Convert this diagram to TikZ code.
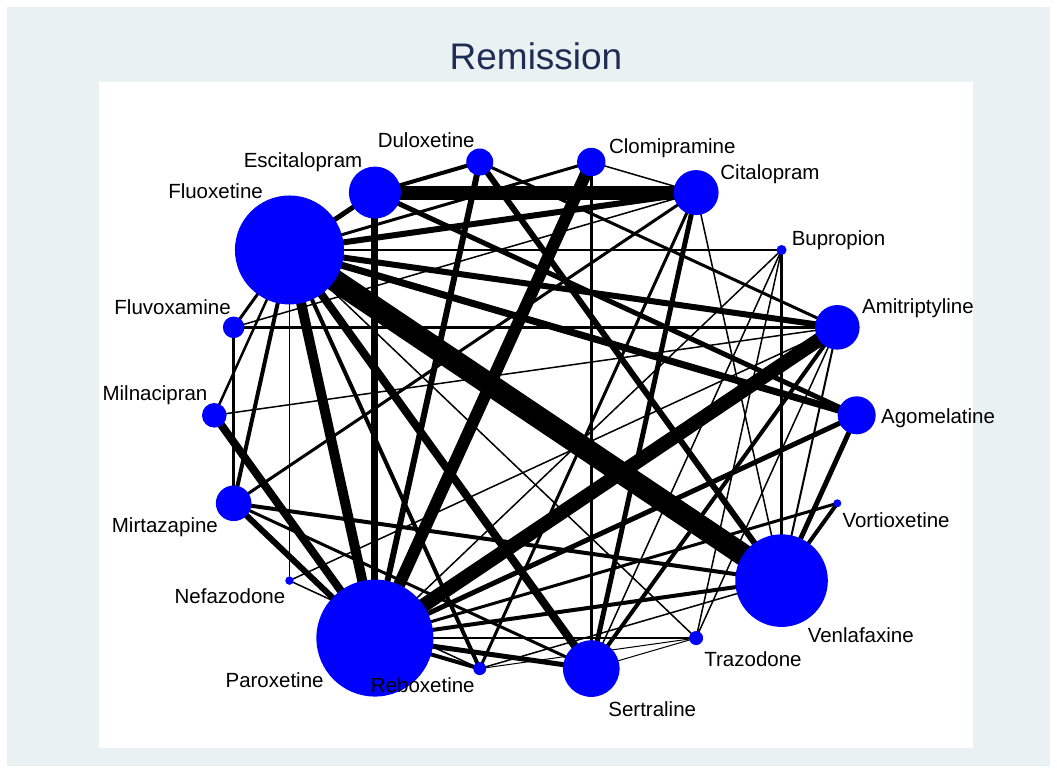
\documentclass[tikz,border=0pt]{standalone}
\usepackage{fontspec}
\setmainfont{Liberation Sans}
\usetikzlibrary{positioning}

\definecolor{stbg}{RGB}{234,241,243}
\definecolor{stnavy}{RGB}{30,45,85}

\pgfdeclarelayer{back}
\pgfdeclarelayer{links}
\pgfsetlayers{back,links,main}

\begin{document}
\begin{tikzpicture}[x=0.5pt, y=-0.5pt,
      drug/.style={circle, fill=blue, inner sep=0pt},
      lbl/.style={inner sep=0pt, font=\fontsize{10.25}{12}\selectfont},
      lnk/.style={draw=black}]

  \useasboundingbox (0,0) rectangle (1057,773);

  % drugs on the ellipse, alphabetical, counter-clockwise
  \foreach \n/\a/\r in {ago/0/19, ami/20/22.3, bup/40/5, cit/60/22.5,
      clo/80/14.2, dul/100/13.5, esc/120/26, flx/140/54.5, flv/160/10.8,
      mil/180/12.3, mir/200/17.8, nef/220/4.2, par/240/58.5, reb/260/6.5,
      ser/280/28.3, tra/300/7, ven/320/46.3, vor/340/4}
    \node[drug, minimum size=\r pt] (\n) at ({535.5+321.2*cos(\a)},{415.3-257.2*sin(\a)}) {};

  \foreach \n/\t/\anc/\dx/\dy in {ago/Agomelatine/west/24/8,
      ami/Amitriptyline/west/24.4/-14, bup/Bupropion/west/9.8/-4,
      cit/Citalopram/west/23.9/-13, clo/Clomipramine/west/17.4/-8.7,
      dul/Duloxetine/east/-4.7/-15, esc/Escitalopram/east/-12.2/-24.9,
      flx/Fluoxetine/east/-26.2/-51.3, flv/Fluvoxamine/east/-2.6/-12.7,
      mil/Milnacipran/east/-6.5/-14.5, mir/Mirtazapine/east/-15.4/29.4,
      nef/Nefazodone/east/-3.8/22.7, par/Paroxetine/east/-50.9/49.3,
      reb/Reboxetine/east/-4.7/24.1, ser/Sertraline/west/16.7/48,
      tra/Trazodone/west/7.9/28.7, ven/Venlafaxine/west/25.8/62,
      vor/Vortioxetine/west/4.8/24.5}
    \node[lbl, anchor=base \anc] (\n-l) at ([shift={(\dx,\dy)}]\n.center) {\t};

  \node[font=\fontsize{18.5}{22}\selectfont, text=stnavy, anchor=base, inner sep=0pt]
    (title) at (536,69) {Remission};

  % comparisons, width = number of trials
  \begin{pgfonlayer}{links}
  \foreach \p/\q/\w in {flx/ven/11, esc/cit/7, par/ami/7, par/clo/6,
      flx/par/5, flx/ser/4, mil/par/4, flx/ago/3.5, esc/par/3.5, flx/ami/3,
      flx/cit/3, dul/par/3, dul/ven/3, cit/ser/2.5, esc/flx/2.5, esc/dul/2,
      par/ago/2.5, ago/ven/2.5, esc/ago/2.5, flx/reb/2, cit/reb/1.5,
      cit/mir/1.5, cit/flv/0.75, cit/clo/0.75, cit/ven/0.75, flv/mir/1.75,
      flv/ami/1.25, flx/bup/0.75, flx/nef/0.75, clo/ser/1.25, bup/ven/1.5,
      par/tra/1.25, tra/flx/0.75, tra/bup/0.75, tra/ser/0.5, tra/reb/0.5,
      dul/ami/1.5, flx/mir/2, flx/flv/1.5, ven/vor/2, ami/ser/2, ami/tra/0.75,
      ami/ven/1, flx/clo/1.5, par/ser/2.5, par/ven/2, par/vor/1.5, par/reb/2,
      mir/par/3, mir/ser/1.5, mir/ven/2, mil/flx/1.25, mil/ami/0.75,
      nef/ami/0.75, nef/reb/0.75, bup/par/0.75, bup/ser/0.75, reb/ven/0.75}
    \draw[lnk, line width=\w pt] (\p.center) -- (\q.center);
  \end{pgfonlayer}

  \begin{pgfonlayer}{back}
    \fill[white] (0,0) rectangle (1057,773);
    \fill[stbg] (7,7) rectangle (1050,766);
    \fill[white] (99,82) rectangle (973,748);
  \end{pgfonlayer}
\end{tikzpicture}
\end{document}
